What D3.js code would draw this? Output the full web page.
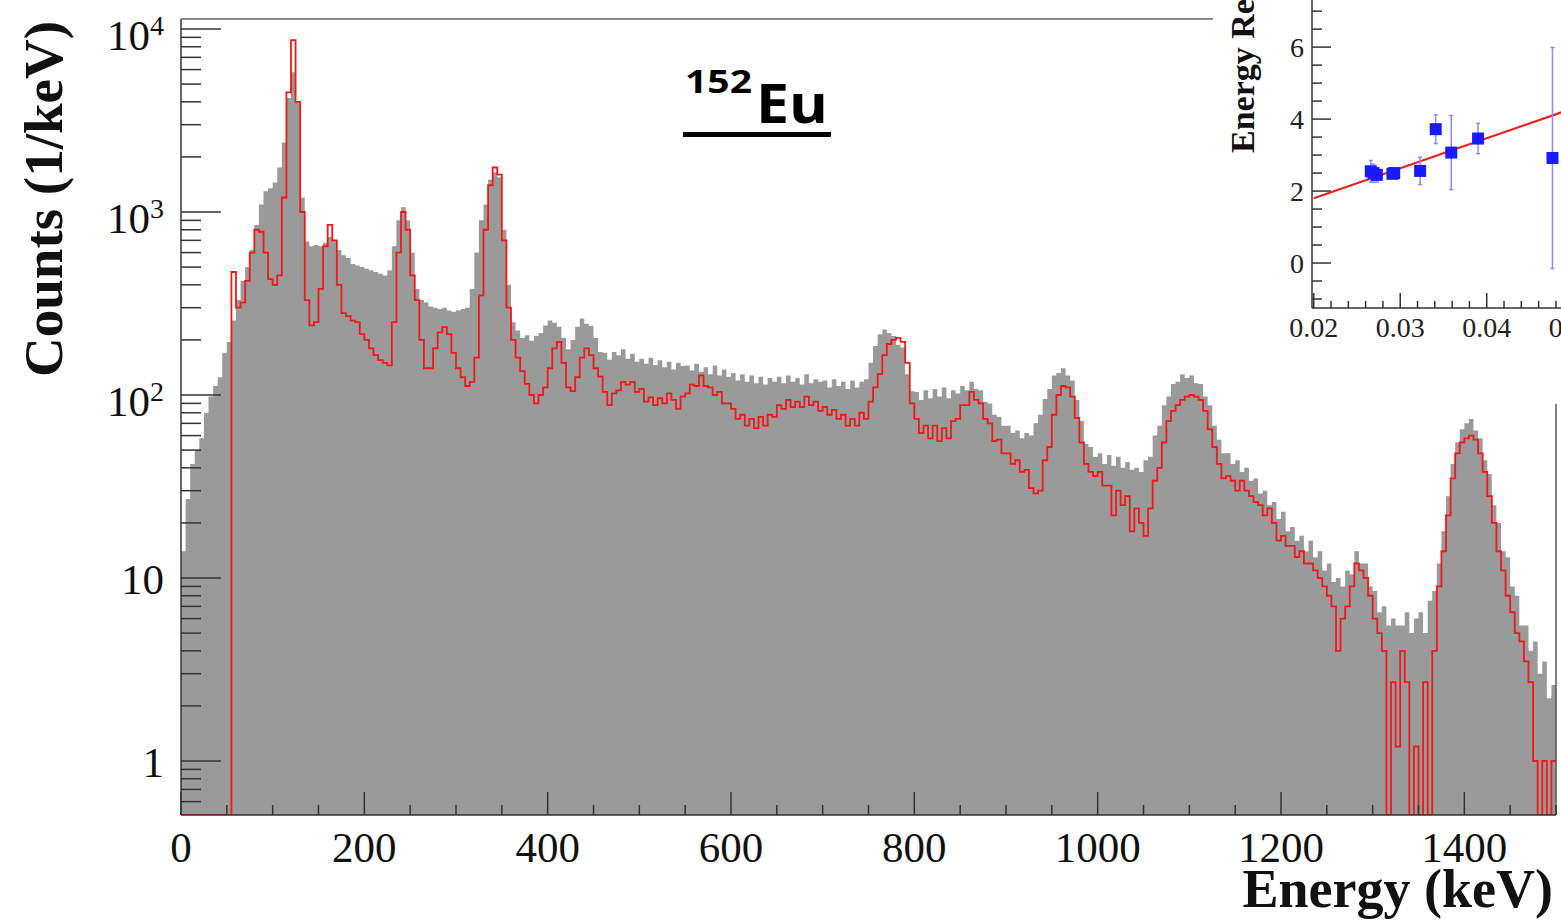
<!DOCTYPE html>
<html><head><meta charset="utf-8">
<script src="https://cdn.jsdelivr.net/npm/d3@7"></script>
<style>body{margin:0;background:#fff}svg{display:block}</style>
</head><body><svg id="c" width="1561" height="921"></svg>
<script>
// ---------------- DATA ----------------
const binStart = 0;      // keV
const binWidth = 5;      // keV
// gray histogram (counts / keV), one value per 5 keV bin from 0 to 1500 keV
const grayCounts = [
 14, 27, 42, 50, 58, 80, 98, 112, 125, 170,
 195, 255, 330, 420, 500, 620, 850, 1100, 1300, 1350,
 1450, 1750, 2400, 4200, 5800, 4000, 1200, 690, 650, 660,
 650, 680, 730, 700, 620, 580, 560, 520, 510, 500,
 490, 480, 470, 460, 450, 480, 650, 900, 1060, 900,
 600, 380, 330, 320, 305, 300, 295, 300, 290, 285,
 290, 295, 300, 380, 600, 900, 1100, 1500, 1650, 1550,
 800, 400, 250, 225, 205, 212, 198, 210, 218, 240,
 255, 248, 236, 205, 178, 200, 236, 262, 245, 238,
 205, 172, 170, 156, 172, 165, 178, 158, 168, 152,
 158, 148, 160, 146, 155, 142, 152, 138, 150, 144,
 145, 136, 148, 134, 142, 130, 145, 128, 138, 126,
 132, 120, 130, 118, 128, 116, 126, 114, 124, 118,
 126, 116, 128, 118, 124, 114, 130, 116, 122, 118,
 120, 110, 122, 112, 118, 108, 120, 110, 118, 122,
 150, 185, 215, 228, 218, 210, 188, 182, 130, 105,
 104, 94, 106, 96, 108, 98, 110, 96, 106, 102,
 112, 106, 118, 108, 106, 92, 90, 78, 76, 68,
 68, 62, 64, 58, 62, 60, 70, 78, 95, 108,
 128, 132, 140, 128, 120, 94, 72, 54, 52, 46,
 48, 42, 47, 41, 46, 40, 43, 39, 40, 38,
 44, 46, 60, 68, 88, 98, 115, 118, 130, 124,
 128, 116, 115, 98, 88, 68, 57, 48, 48, 42,
 44, 38, 40, 34, 35, 29, 30, 25, 26, 21,
 23, 18, 19, 16, 17, 14, 16, 13, 14, 11,
 12, 9.5, 10, 9, 11, 10.5, 14, 12, 12, 9,
 8.5, 6.5, 7, 5.5, 6, 5.5, 5.5, 6.5, 5, 6,
 6.5, 5, 7.5, 8.5, 12, 18, 28, 42, 55, 65,
 70, 74, 64, 58, 44, 37, 25, 20, 14, 13,
 9, 8, 5.5, 5.5, 4, 4.5, 3, 3.5, 2.2, 2.6
];
// red histogram (counts / keV), same binning
const redCounts = [
 0, 0, 0, 0, 0, 0, 0, 0, 0, 0,
 0, 470, 300, 320, 420, 600, 800, 780, 600, 430,
 400, 450, 1200, 4500, 8700, 4000, 1000, 330, 240, 250,
 380, 650, 850, 700, 400, 280, 270, 255, 250, 215,
 200, 180, 165, 155, 150, 145, 250, 600, 1000, 800,
 450, 330, 200, 140, 140, 180, 220, 235, 215, 170,
 140, 125, 112, 118, 160, 350, 800, 1400, 1750, 1600,
 700, 300, 200, 160, 135, 115, 100, 90, 100, 110,
 140, 180, 195, 150, 110, 105, 125, 160, 180, 165,
 140, 126, 104, 88, 102, 106, 118, 114, 118, 104,
 108, 92, 97, 88, 96, 90, 102, 94, 84, 98,
 102, 114, 112, 128, 112, 110, 100, 104, 90, 90,
 84, 74, 78, 68, 74, 66, 76, 68, 78, 76,
 88, 84, 94, 86, 92, 86, 98, 88, 92, 82,
 86, 78, 83, 74, 78, 68, 74, 68, 80, 74,
 92, 110, 130, 165, 190, 200, 205, 195, 150, 90,
 74, 62, 68, 58, 68, 56, 66, 58, 72, 74,
 88, 88, 104, 94, 90, 74, 70, 56, 57, 48,
 48, 42, 44, 38, 39, 31, 29, 30, 44, 52,
 78, 100, 112, 110, 98, 75, 55, 42, 38, 36,
 38, 32, 32, 22, 30, 25, 28, 18, 24, 20,
 17, 24, 34, 40, 55, 72, 82, 88, 94, 98,
 100, 98, 94, 82, 65, 52, 42, 35, 36, 34,
 30, 34, 30, 28, 26, 25, 22, 24, 20, 16,
 17, 15, 15, 13, 14, 12, 12, 11, 10, 9,
 8, 7, 4, 6, 7, 9, 12, 11, 10, 8,
 6, 5, 4, 0, 2.7, 1.2, 4, 2.7, 0, 1.2,
 0, 2.7, 0, 4, 9, 14, 22, 35, 48, 55,
 58, 60, 57, 48, 38, 28, 20, 14, 11, 8,
 6.5, 5, 4.5, 3.5, 2.7, 1, 0, 1, 0, 1
];
const xTickValues = [0, 200, 400, 600, 800, 1000, 1200, 1400];
const yTickValues = [1, 10, 100, 1000, 10000];
const yTickBase = ["1", "10", "10", "10", "10"];
const yTickSup = ["", "", "2", "3", "4"];

// inset: energy resolution
const insetX = [0.0266, 0.0269, 0.0273, 0.0291, 0.0293, 0.0323, 0.0341, 0.0359, 0.0390, 0.0476];
const insetY = [2.55, 2.50, 2.45, 2.48, 2.50, 2.56, 3.72, 3.07, 3.46, 2.92];
const insetErr = [0.30, 0.25, 0.20, 0.10, 0.10, 0.38, 0.40, 1.03, 0.42, 3.07];
const fitIntercept = 0.132, fitSlope = 83.4;
const insetXTicks = [0.02, 0.03, 0.04, 0.05];
const insetXTickLabels = ["0.02", "0.03", "0.04", "0.05"];
const insetYTicks = [0, 2, 4, 6];

// ---------------- DRAW ----------------
const svg = d3.select("#c");
svg.append("rect").attr("width",1561).attr("height",921).attr("fill","#fff");
const L = 181, R = 1556, T = 19, B = 815;
const x = d3.scaleLinear().domain([0,1500]).range([L, R]);
const y = d3.scaleLog().domain([0.507, 11340]).range([B, T]);
const yc = v => (v <= 0.507 ? B : y(v));
const serif = "'Liberation Serif','Times New Roman',serif";

const binsG = grayCounts.map((v,i)=>({e: binStart + i*binWidth, v}));
binsG.push({e: binStart + grayCounts.length*binWidth, v: grayCounts[grayCounts.length-1]});
const binsR = redCounts.map((v,i)=>({e: binStart + i*binWidth, v}));
binsR.push({e: binStart + redCounts.length*binWidth, v: redCounts[redCounts.length-1]});

svg.append("defs").append("clipPath").attr("id","pc").append("rect")
  .attr("x",L).attr("y",T).attr("width",R-L).attr("height",B-T);
const plot = svg.append("g").attr("clip-path","url(#pc)");

plot.append("path").datum(binsG)
  .attr("d", d3.area().curve(d3.curveStepAfter).x(d=>x(d.e)).y0(B).y1(d=>yc(d.v)))
  .attr("fill","#9a9a9a");
plot.append("path").datum(binsR)
  .attr("d", d3.line().curve(d3.curveStepAfter).x(d=>x(d.e)).y(d=>yc(d.v)))
  .attr("fill","none").attr("stroke","#f21818").attr("stroke-width",1.8);

// frame
const ax = svg.append("g").attr("stroke","#333").attr("stroke-width",1.5);
ax.append("line").attr("x1",L).attr("x2",L).attr("y1",T).attr("y2",B);
ax.append("line").attr("x1",L).attr("x2",R).attr("y1",B).attr("y2",B);
ax.append("line").attr("x1",L).attr("x2",1213).attr("y1",T).attr("y2",T).attr("stroke","#666");
ax.append("line").attr("x1",R).attr("x2",R).attr("y1",404).attr("y2",B).attr("stroke","#555");

// y ticks
const minorY = [];
[0.1,1,10,100,1000].forEach(d=>{ for(let k=2;k<=9;k++){ const v=k*d; if(v>0.507 && v<11340) minorY.push(v);} });
minorY.forEach(v=>ax.append("line").attr("x1",L).attr("x2",L+20).attr("y1",y(v)).attr("y2",y(v)));
yTickValues.forEach(v=>ax.append("line").attr("x1",L).attr("x2",L+40).attr("y1",y(v)).attr("y2",y(v)));
// x ticks
for(let e=0;e<=1500;e+=50){
  const major = e%200===0;
  ax.append("line").attr("x1",x(e)).attr("x2",x(e)).attr("y1",B).attr("y2",B-(major?23:10));
}

// tick labels
xTickValues.forEach(v=>svg.append("text").attr("x",x(v)).attr("y",862).attr("text-anchor","middle")
  .attr("font-family",serif).attr("font-size",43).attr("fill","#111").text(v));
yTickValues.forEach((v,i)=>{
  const t = svg.append("text").attr("x",164).attr("text-anchor","end")
    .attr("font-family",serif).attr("font-size",43).attr("fill","#111");
  if(yTickSup[i]){
    t.attr("y", y(v)+21);
    t.append("tspan").text(yTickBase[i]);
    t.append("tspan").attr("font-size",28).attr("dy",-15).text(yTickSup[i]);
  } else {
    t.attr("y", y(v)+16).text(yTickBase[i]);
  }
});

// axis titles
svg.append("text").attr("x",1553).attr("y",907).attr("text-anchor","end")
  .attr("font-family",serif).attr("font-weight","bold").attr("font-size",54).attr("fill","#111")
  .text("Energy (keV)");
svg.append("text").attr("transform","translate(62,199) rotate(-90)").attr("text-anchor","middle")
  .attr("font-family",serif).attr("font-weight","bold").attr("font-size",55).attr("fill","#111")
  .text("Counts (1/keV)");

// title
svg.append("text").attr("x",685).attr("y",93).attr("font-family","'Open Sans',sans-serif")
  .attr("font-weight","bold").attr("font-size",32).attr("fill","#000")
  .attr("textLength",67).attr("lengthAdjust","spacingAndGlyphs").text("152");
svg.append("text").attr("x",756).attr("y",123).attr("font-family","'Open Sans',sans-serif")
  .attr("font-weight","bold").attr("font-size",53).attr("fill","#000")
  .attr("textLength",72).attr("lengthAdjust","spacingAndGlyphs").text("Eu");
svg.append("rect").attr("x",683).attr("y",132).attr("width",148).attr("height",5).attr("fill","#000");

// ---------------- INSET ----------------
const ins = svg.append("g");
ins.append("rect").attr("x",1213).attr("y",0).attr("width",348).attr("height",404).attr("fill","#fff");
const ix = d3.scaleLinear().domain([0.0198, 0.0489]).range([1312, 1563.7]);
const iy = d3.scaleLinear().domain([-1.25, 7.31]).range([308, 0]);
const ia = ins.append("g").attr("stroke","#333").attr("stroke-width",1.5);
ia.append("line").attr("x1",1312).attr("x2",1312).attr("y1",0).attr("y2",308);
ia.append("line").attr("x1",1312).attr("x2",1561).attr("y1",308).attr("y2",308);
for(let v=-1; v<=7.01; v+=0.5){
  const major = Math.abs(v%2)<1e-6;
  ia.append("line").attr("x1",1312).attr("x2",1312+(major?19:10)).attr("y1",iy(v)).attr("y2",iy(v));
}
for(let k=0;k<=15;k++){
  const v = 0.02 + k*0.002;
  const major = k%5===0;
  ia.append("line").attr("x1",ix(v)).attr("x2",ix(v)).attr("y1",308).attr("y2",308-(major?15:7));
}
insetYTicks.forEach(v=>ins.append("text").attr("x",1304).attr("y",iy(v)+10).attr("text-anchor","end")
  .attr("font-family",serif).attr("font-size",28).attr("fill","#222").text(v));
insetXTicks.forEach((v,i)=>ins.append("text").attr("x",ix(v)).attr("y",337).attr("text-anchor","middle")
  .attr("font-family",serif).attr("font-size",28).attr("fill","#222").text(insetXTickLabels[i]));
ins.append("text").attr("transform","translate(1254,153) rotate(-90)").attr("text-anchor","start")
  .attr("font-family",serif).attr("font-weight","bold").attr("font-size",34).attr("fill","#111")
  .text("Energy Resolution (%)");
// fit line
ins.append("line").attr("x1",ix(0.02)).attr("y1",iy(fitIntercept+fitSlope*0.02))
  .attr("x2",ix(0.0489)).attr("y2",iy(fitIntercept+fitSlope*0.0489))
  .attr("stroke","#f02020").attr("stroke-width",2.2);
// error bars and points
insetX.forEach((xv,i)=>{
  const cx = ix(xv), y1 = iy(insetY[i]-insetErr[i]), y2 = iy(insetY[i]+insetErr[i]);
  ins.append("line").attr("x1",cx).attr("x2",cx).attr("y1",y1).attr("y2",y2).attr("stroke","#8a8aff").attr("stroke-width",1.5);
  ins.append("line").attr("x1",cx-2).attr("x2",cx+2).attr("y1",y1).attr("y2",y1).attr("stroke","#8a8aff").attr("stroke-width",1.5);
  ins.append("line").attr("x1",cx-2).attr("x2",cx+2).attr("y1",y2).attr("y2",y2).attr("stroke","#8a8aff").attr("stroke-width",1.5);
});
insetX.forEach((xv,i)=>{
  ins.append("rect").attr("x",ix(xv)-6).attr("y",iy(insetY[i])-6).attr("width",12).attr("height",12).attr("fill","#1a1aff");
});
</script></body></html>
